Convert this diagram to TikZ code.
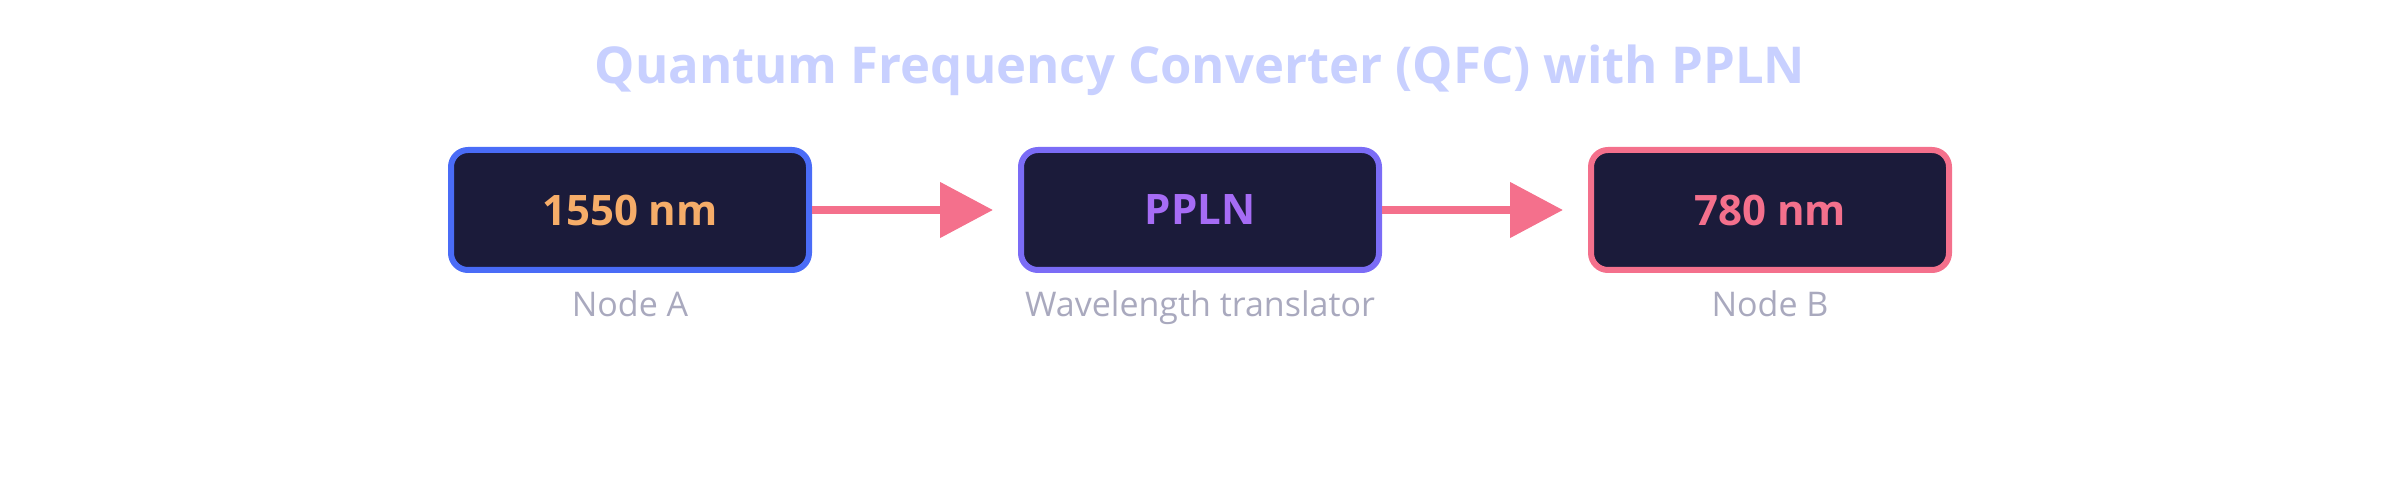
\documentclass[tikz,border=0pt]{standalone}
\usepackage{fontspec}
\setmainfont{Open Sans}
\usetikzlibrary{arrows.meta,positioning}

\definecolor{titleblue}{HTML}{C8D0FF}
\definecolor{boxbg}{HTML}{1B1B3A}
\definecolor{blueedge}{HTML}{4A6CF7}
\definecolor{violetedge}{HTML}{7B6CF6}
\definecolor{pinkedge}{HTML}{F4708C}
\definecolor{orangetext}{HTML}{F6AD69}
\definecolor{violettext}{HTML}{A66CF5}
\definecolor{tagtext}{HTML}{A9A9BE}

\begin{document}
\begin{tikzpicture}[
        x=0.5pt, y=-0.5pt, node distance=103pt,
        unit/.style={draw, rounded corners=8.5pt, line width=3pt, fill=boxbg,
                     minimum width=179pt, minimum height=60pt,
                     font=\fontsize{21}{24}\selectfont\bfseries},
        tag/.style={text=tagtext, text height=1.5ex, text depth=0.4ex,
                    font=\fontsize{17}{20}\selectfont},
        link/.style={-{Triangle[length=26.5pt,width=27pt]}, line width=4pt,
                     draw=pinkedge, fill=pinkedge, shorten >=12.5pt}
    ]
        \useasboundingbox (0,0) rectangle (2400,480);

        \node[text=titleblue, font=\fontsize{25.4}{30}\selectfont\bfseries] (title) at (1200,70)
            {Quantum Frequency Converter (QFC) with PPLN};

        \node[unit, draw=blueedge, text=orangetext] (nodea) at (630,210) {1550 nm};
        \node[unit, draw=violetedge, text=violettext, right=of nodea] (ppln) {PPLN};
        \node[unit, draw=pinkedge, text=pinkedge, right=of ppln] (nodeb) {780 nm};

        \node[tag] (taga) at ([yshift=-19pt]nodea.south) {Node A};
        \node[tag] (tagp) at ([yshift=-19pt]ppln.south) {Wavelength translator};
        \node[tag] (tagb) at ([yshift=-19pt]nodeb.south) {Node B};

        \path[link]
            (nodea) edge (ppln)
            (ppln)  edge (nodeb);
    \end{tikzpicture}
\end{document}
